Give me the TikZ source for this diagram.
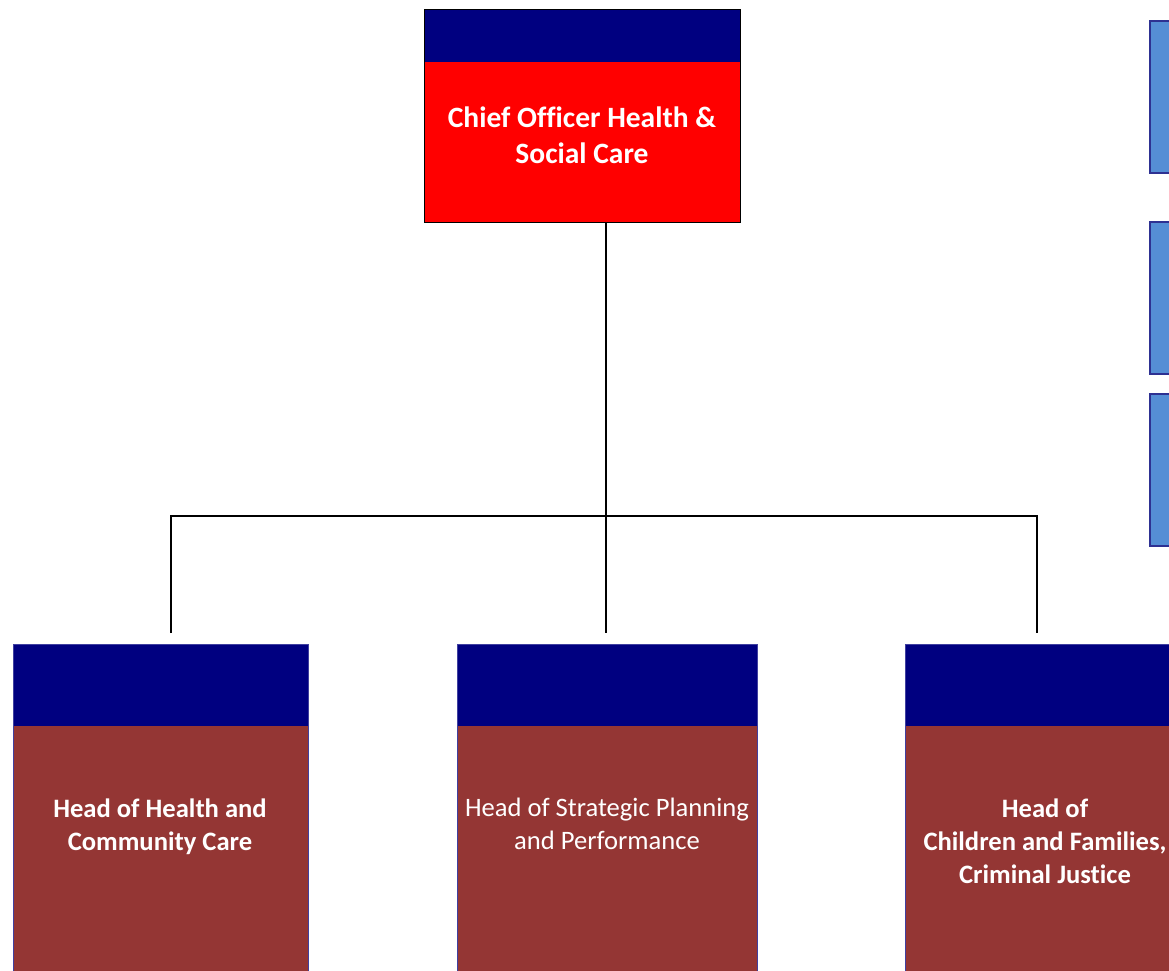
\documentclass[tikz,border=0pt]{standalone}
\usepackage{fontspec}
\setmainfont{Carlito}[Ligatures=NoCommon]
\definecolor{hdrnavy}{HTML}{000080}
\definecolor{chiefred}{HTML}{FF0000}
\definecolor{headbrown}{HTML}{943634}
\definecolor{sidefill}{HTML}{558ED5}
\definecolor{sideline}{HTML}{2E3192}
\definecolor{headline}{HTML}{4040A0}
\begin{document}
\begin{tikzpicture}[x=1pt, y=-1pt,
  band/.style={path picture={\fill[hdrnavy] (path picture bounding box.north west) rectangle ([yshift=-#1]path picture bounding box.north east);}},
  chiefbox/.style={rectangle, draw=black, line width=1.2pt, fill=chiefred, minimum width=316pt, minimum height=213pt, inner sep=0pt, anchor=north west, band=52pt},
  headbox/.style={rectangle, draw=headline, line width=1pt, fill=headbrown, minimum height=360pt, inner sep=0pt, anchor=north west, band=81pt},
  sidebox/.style={rectangle, draw=sideline, line width=2pt, fill=sidefill, minimum width=60pt, minimum height=152pt, inner sep=0pt, anchor=north west},
  boxtxt/.style={text=white, align=center, inner sep=0pt, font=\fontsize{26.6}{33}\selectfont},
  link/.style={draw=black, line width=1.3pt}]
\useasboundingbox (0,0) rectangle (1169,971);
\clip (0,0) rectangle (1169,971);
\node[chiefbox] (chief) at (424,9){};
\node[headbox, minimum width=295pt] (hcc) at (13,644){};
\node[headbox, minimum width=300pt] (spp) at (457,644){};
\node[headbox, minimum width=282pt] (cfcj) at (905,644){};
\node[sidebox] (side1) at (1149,20){};
\node[sidebox] (side2) at (1149,221){};
\node[sidebox] (side3) at (1149,393){};
\node[boxtxt, font=\fontsize{29.5}{36}\selectfont\bfseries] (chieflbl) at (582,135){Chief Officer Health \&\\Social Care};
\node[boxtxt, font=\fontsize{26.6}{33}\selectfont\bfseries] (hcclbl) at (160,827){Head of Health and\\Community Care};
\node[boxtxt] (spplbl) at (607,824){Head of Strategic Planning\\and Performance};
\node[boxtxt, font=\fontsize{26.6}{33}\selectfont\bfseries] (cfcjlbl) at (1045,841){Head of\\Children and Families,\\Criminal Justice};
\coordinate (split) at (606,516);
\coordinate (hccdrop) at (171,633);
\coordinate (sppdrop) at (606,633);
\coordinate (cfcjdrop) at (1037,633);
\draw[link](chief.south -| split) -- (split);
\draw[link](split) -- (sppdrop);
\draw[link](hccdrop) -- (hccdrop |- split) -- (cfcjdrop |- split) -- (cfcjdrop);

\end{tikzpicture}
\end{document}
